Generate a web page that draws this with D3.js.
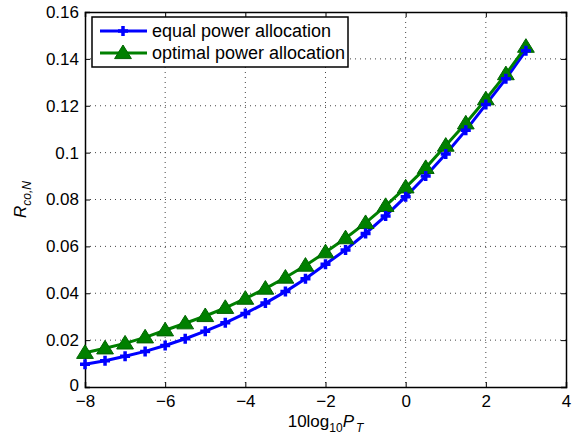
<!DOCTYPE html>
<html>
<head>
<meta charset="utf-8">
<script src="https://cdn.jsdelivr.net/npm/d3@7"></script>
<style>
  body { margin: 0; background: #fff; }
  svg { font-family: "Liberation Sans", Arial, sans-serif; }
</style>
</head>
<body>
<div id="chart"></div>
<script>
// transmit power in dB (10log10 PT)
const powerDb = [-8, -7.5, -7, -6.5, -6, -5.5, -5, -4.5, -4, -3.5, -3, -2.5, -2, -1.5, -1, -0.5, 0, 0.5, 1, 1.5, 2, 2.5, 3];
const equalAlloc = [0.0097, 0.0112, 0.0131, 0.0152, 0.0177, 0.0206, 0.0238, 0.0274, 0.0314, 0.0358, 0.0407, 0.0462, 0.0524, 0.0585, 0.0655, 0.0730, 0.0812, 0.0900, 0.0994, 0.1095, 0.1205, 0.1315, 0.1435];
const optimalAlloc = [0.0146, 0.0165, 0.0186, 0.0212, 0.0242, 0.0272, 0.0303, 0.0338, 0.0377, 0.0420, 0.0467, 0.0518, 0.0575, 0.0635, 0.0700, 0.0773, 0.0852, 0.0935, 0.1030, 0.1125, 0.1228, 0.1335, 0.1452];
const xTicks = [-8, -6, -4, -2, 0, 2, 4];
const yTicks = [0, 0.02, 0.04, 0.06, 0.08, 0.1, 0.12, 0.14, 0.16];
const seriesNames = ["equal power allocation", "optimal power allocation"];

const W = 582, H = 443;
const margin = {top: 12, right: 16, bottom: 56, left: 85};
const w = W - margin.left - margin.right;
const h = H - margin.top - margin.bottom;
const fs = 17;

const svg = d3.select("#chart").append("svg")
  .attr("width", W).attr("height", H);
const g = svg.append("g")
  .attr("transform", `translate(${margin.left},${margin.top})`);

const x = d3.scaleLinear().domain([-8, 4]).range([0, w]);
const y = d3.scaleLinear().domain([0, 0.16]).range([h, 0]);

// dotted grid
g.append("g").selectAll("line").data(xTicks.slice(1, -1)).enter().append("line")
  .attr("x1", d => x(d)).attr("x2", d => x(d)).attr("y1", 0).attr("y2", h)
  .attr("stroke", "#444").attr("stroke-width", 1).attr("stroke-dasharray", "1,4");
g.append("g").selectAll("line").data(yTicks.slice(1, -1)).enter().append("line")
  .attr("y1", d => y(d)).attr("y2", d => y(d)).attr("x1", 0).attr("x2", w)
  .attr("stroke", "#444").attr("stroke-width", 1).attr("stroke-dasharray", "1,4");

// axes with inward ticks
const fmtY = d => d === 0 ? "0" : String(+d.toFixed(2));
const fmtX = d => d < 0 ? "\u2212" + Math.abs(d) : String(d);
const axB = g.append("g").attr("transform", `translate(0,${h})`)
  .call(d3.axisBottom(x).tickValues(xTicks).tickSize(-5).tickPadding(8).tickFormat(fmtX));
const axT = g.append("g")
  .call(d3.axisTop(x).tickValues(xTicks).tickSize(-5).tickFormat(""));
const axL = g.append("g")
  .call(d3.axisLeft(y).tickValues(yTicks).tickSize(-5).tickPadding(6).tickFormat(fmtY));
const axR = g.append("g").attr("transform", `translate(${w},0)`)
  .call(d3.axisRight(y).tickValues(yTicks).tickSize(-5).tickFormat(""));
[axB, axT, axL, axR].forEach(a => {
  a.select(".domain").attr("stroke", "#000").attr("stroke-width", 1.5);
  a.selectAll(".tick line").attr("stroke", "#000");
  a.selectAll("text").attr("font-size", fs).attr("fill", "#000")
    .attr("font-family", "Liberation Sans, Arial, sans-serif");
});
// lift the y "0" a little so it clears the "-8" below it
axL.selectAll(".tick text").filter(d => d === 0).attr("dy", "0.2em");

// lines
const makeLine = vals => d3.line().x((d, i) => x(powerDb[i])).y(d => y(d))(vals);
g.append("path").attr("d", makeLine(equalAlloc))
  .attr("fill", "none").attr("stroke", "#0000ff").attr("stroke-width", 3);
g.append("path").attr("d", makeLine(optimalAlloc))
  .attr("fill", "none").attr("stroke", "#008000").attr("stroke-width", 3);

// markers
const plusPath = s => `M${-s},0H${s}M0,${-s}V${s}`;
const triPath = s => `M0,${-s}L${s * 1.05},${s * 0.7}L${-s * 1.05},${s * 0.7}Z`;
g.append("g").selectAll("path").data(optimalAlloc).enter().append("path")
  .attr("transform", (d, i) => `translate(${x(powerDb[i])},${y(d)})`)
  .attr("d", triPath(8)).attr("fill", "#008000").attr("stroke", "#006400").attr("stroke-width", 1);
g.append("g").selectAll("path").data(equalAlloc).enter().append("path")
  .attr("transform", (d, i) => `translate(${x(powerDb[i])},${y(d)})`)
  .attr("d", plusPath(5)).attr("fill", "none").attr("stroke", "#0000ff").attr("stroke-width", 3.5);

// legend
const leg = g.append("g").attr("transform", "translate(7,5)");
leg.append("rect").attr("width", 256).attr("height", 50)
  .attr("fill", "#fff").attr("stroke", "#000").attr("stroke-width", 1.5);
const legColors = ["#0000ff", "#008000"];
seriesNames.forEach((name, i) => {
  const ly = 14 + i * 22;
  leg.append("line").attr("x1", 8).attr("x2", 55).attr("y1", ly).attr("y2", ly)
    .attr("stroke", legColors[i]).attr("stroke-width", 3);
  if (i === 0) {
    leg.append("path").attr("transform", `translate(31,${ly})`).attr("d", plusPath(5))
      .attr("stroke", "#0000ff").attr("stroke-width", 3.5);
  } else {
    leg.append("path").attr("transform", `translate(31,${ly})`).attr("d", triPath(8))
      .attr("fill", "#008000").attr("stroke", "#006400");
  }
  leg.append("text").attr("x", 60).attr("y", ly + 6).attr("font-size", 18)
    .text(name);
});

// axis labels
const xl = svg.append("text").attr("x", margin.left + w / 2).attr("y", H - 16)
  .attr("text-anchor", "middle").attr("font-size", fs);
xl.append("tspan").text("10log");
xl.append("tspan").attr("font-size", 12).attr("dy", 5).text("10");
xl.append("tspan").attr("font-style", "italic").attr("dy", -5).text("P");
xl.append("tspan").attr("font-size", 12).attr("font-style", "italic").attr("dy", 5).attr("dx", 2).text("T");

const yl = svg.append("text")
  .attr("transform", `translate(26,${margin.top + h / 2}) rotate(-90)`)
  .attr("text-anchor", "middle").attr("font-size", fs);
yl.append("tspan").attr("font-style", "italic").text("R");
yl.append("tspan").attr("font-style", "italic").attr("font-size", 12).attr("dy", 5).text("co,N");
</script>
</body>
</html>
